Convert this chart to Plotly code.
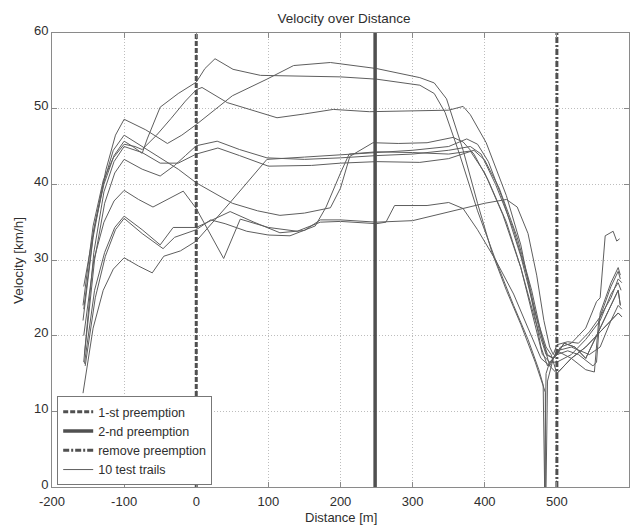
import plotly.graph_objects as go

# ---------------- data ----------------
x_ticks = [-200, -100, 0, 100, 200, 300, 400, 500, 600]
x_tick_labels = ["-200", "-100", "0", "100", "200", "300", "400", "500", "600"]
y_ticks = [0, 10, 20, 30, 40, 50, 60]
x_range = [-200, 600]
y_range = [0, 60]

event_names = ["1-st preemption", "2-nd preemption", "remove preemption"]
event_d = [0, 248, 500]

trail1_d = [-156, -140, -125, -112, -100, -70, -40, -20, 0, 50, 98, 135, 186, 250, 310, 330, 347, 370, 390, 410, 430, 450, 470, 480, 484, 484, 485, 487, 495, 505, 520, 540, 555, 560, 567, 578, 583, 587]
trail1_v = [26.5, 35, 42, 46.5, 48.6, 47.2, 45.4, 46.5, 47.9, 51.7, 53.9, 55.7, 56.1, 55.3, 54.1, 53.4, 51.3, 44.5, 37.5, 31, 26, 21.5, 16.5, 13.5, 12.5, 0, 0, 14, 17, 18.5, 19, 21, 24.5, 25, 33.2, 33.8, 32.5, 32.8]

trail2_d = [-156, -142, -128, -114, -100, -88, -75, -68, -50, -25, 0, 12, 26, 51, 89, 150, 200, 250, 310, 330, 345, 365, 390, 415, 440, 460, 475, 481, 482, 483, 485, 490, 500, 515, 530, 550, 555, 560, 575, 585, 588]
trail2_v = [23.5, 34, 40, 43.8, 45.7, 45.0, 44.1, 46.0, 50.2, 52.0, 53.5, 55.3, 56.6, 55.2, 54.4, 54.3, 54.2, 53.9, 53.1, 52.0, 49.5, 44, 36.5, 30, 24, 19.5, 15.5, 13.5, 0, 0, 15, 16.5, 17.5, 18, 17.5, 16, 16.5, 23, 27, 29, 28]

trail3_d = [-157, -143, -129, -115, -100, -85, -75, -55, -35, -15, 0, 8, 43, 70, 112, 150, 190, 240, 310, 350, 370, 380, 402, 430, 450, 465, 478, 487, 495, 500, 520, 540, 552, 558, 575, 585, 588]
trail3_v = [24, 34.5, 40.5, 43.5, 45.3, 45.0, 44.6, 46.5, 48.7, 51.0, 52.5, 52.8, 50.8, 50.0, 48.8, 49.3, 49.9, 49.6, 49.7, 49.8, 50.3, 49.2, 45.5, 38.5, 32, 25, 18.5, 16, 17, 18, 17, 15.5, 15.2, 22, 26.5, 28.5, 27.5]

trail4_d = [-157, -143, -129, -115, -100, -75, -50, -25, 0, 25, 50, 85, 116, 150, 186, 200, 213, 245, 280, 320, 356, 370, 385, 405, 430, 450, 468, 480, 490, 500, 520, 540, 560, 575, 585, 589]
trail4_v = [22, 33, 40, 44.5, 46.5, 45.0, 43.5, 42.0, 40.2, 38.8, 37.5, 36.5, 35.9, 36.2, 36.9, 39.5, 43.7, 45.5, 45.4, 45.5, 46.2, 45.6, 44, 40.5, 35, 29, 22, 17.5, 16.5, 16.5, 17.5, 19.5, 22, 25.5, 27, 26]

trail5_d = [-155, -141, -127, -113, -100, -75, -50, -30, -15, 0, 29, 60, 98, 150, 200, 250, 300, 350, 380, 395, 415, 440, 460, 475, 487, 495, 500, 510, 525, 540, 555, 570, 585, 588]
trail5_v = [17.5, 30, 37.5, 41.5, 43.3, 42.0, 41.1, 42.5, 43.8, 45.1, 45.7, 44.6, 43.5, 43.3, 43.5, 43.8, 44.0, 44.5, 45.0, 44.0, 40, 34, 27.5, 21, 17.5, 17, 17.5, 19, 18.5, 17, 20, 23, 26, 24]

trail6_d = [-156, -142, -128, -114, -100, -75, -50, -25, 0, 30, 60, 100, 160, 200, 250, 310, 350, 385, 400, 420, 445, 465, 480, 490, 500, 520, 540, 560, 575, 585, 590]
trail6_v = [16.5, 31, 39, 43, 45.0, 44.2, 42.8, 42.8, 44.0, 44.8, 43.8, 42.4, 42.5, 42.8, 43.0, 42.9, 43.4, 44.5, 43.2, 39.5, 33, 26, 19.5, 16, 15, 17, 18.5, 20.5, 22, 23, 22.5]

trail7_d = [-154, -140, -126, -112, -100, -75, -46, -30, 0, 20, 40, 70, 100, 130, 165, 180, 200, 212, 250, 300, 350, 380, 400, 425, 450, 470, 485, 495, 500, 510, 525, 540, 555, 570, 585, 588]
trail7_v = [16, 25, 30.5, 34, 35.5, 33.5, 31.5, 33, 34.0, 35.3, 34.8, 33.8, 33.3, 33.2, 34.5, 37, 41.5, 44.0, 44.3, 44.2, 44.0, 44.4, 41.5, 36, 29, 22, 17.5, 17, 17.5, 19, 18.5, 17, 20, 23, 26, 24]

trail8_d = [-155, -141, -127, -113, -100, -75, -50, -32, 0, 47, 80, 116, 150, 172, 200, 250, 300, 350, 400, 430, 445, 460, 472, 482, 490, 495, 500, 515, 530, 545, 560, 575, 585, 590]
trail8_v = [16.3, 26, 31, 34.3, 35.8, 34.0, 32.0, 34.3, 34.3, 36.4, 35.0, 33.6, 33.9, 35.3, 35.3, 35.0, 35.2, 36.3, 37.5, 38.0, 37.0, 33.5, 28, 22, 18.5, 17.5, 18.8, 19.2, 19, 20.5, 22.5, 25, 27.5, 27]

trail9_d = [-156, -142, -128, -114, -100, -80, -60, -40, -18, 0, 38, 61, 100, 140, 172, 200, 250, 263, 275, 320, 350, 370, 390, 415, 440, 460, 478, 490, 500, 520, 545, 560, 575, 585, 590]
trail9_v = [20, 30, 35, 37.8, 39.2, 38.0, 37.0, 38.0, 39.1, 36.8, 30.2, 35.4, 34.3, 33.8, 35.0, 35.1, 34.8, 35.0, 37.2, 37.2, 37.6, 36.8, 34, 30, 25.5, 21, 17, 16, 18, 18.5, 17.5, 18.5, 22, 24, 23.5]

trail10_d = [-157, -143, -129, -115, -100, -80, -61, -45, -22, 0, 47, 75, 98, 150, 200, 250, 300, 350, 375, 390, 405, 425, 450, 470, 485, 492, 500, 520, 540, 560, 575, 585, 590]
trail10_v = [12.4, 21, 26, 28.8, 30.3, 29.2, 28.3, 30.5, 31.2, 32.5, 37.6, 40.8, 43.3, 43.6, 43.9, 44.2, 44.5, 45.0, 46.0, 45.3, 43, 38, 30.5, 23, 18.5, 17.5, 15, 17, 18.5, 20.5, 22, 23, 22.5]

trails_d = [trail1_d, trail2_d, trail3_d, trail4_d, trail5_d, trail6_d, trail7_d, trail8_d, trail9_d, trail10_d]
trails_v = [trail1_v, trail2_v, trail3_v, trail4_v, trail5_v, trail6_v, trail7_v, trail8_v, trail9_v, trail10_v]

# ---------------- figure ----------------
FONT = "Liberation Sans, Arial, sans-serif"
TXT = "#2e2e2e"
fig = go.Figure()

for i, (d, v) in enumerate(zip(trails_d, trails_v)):
    fig.add_trace(go.Scatter(
        x=d, y=v, mode="lines",
        line=dict(color="#5e5e5e", width=1),
        name="10 test trails", legendgroup="trails",
        showlegend=(i == 0), legendrank=4, hoverinfo="skip"))

event_styles = [
    dict(color="#505050", width=3, dash="5px,2px"),
    dict(color="#505050", width=3.5, dash="solid"),
    dict(color="#505050", width=3, dash="6px,2px,2px,2px"),
]
for k, (name, d0, st) in enumerate(zip(event_names, event_d, event_styles)):
    fig.add_trace(go.Scatter(
        x=[d0, d0], y=y_range, mode="lines", line=st,
        name=name, legendrank=k + 1, hoverinfo="skip"))

axis_common = dict(
    showline=True, linecolor="#8a8a8a", linewidth=1, mirror="allticks",
    ticks="inside", ticklen=5, tickcolor="#8a8a8a",
    showgrid=True, gridcolor="#bdbdbd", griddash="1px,2px", gridwidth=1,
    zeroline=False, tickfont=dict(family=FONT, size=13, color=TXT),
)
fig.update_xaxes(range=x_range, tickvals=x_ticks, ticktext=x_tick_labels,
                 ticklabelstandoff=2, **axis_common)
fig.update_yaxes(range=y_range, tickvals=y_ticks, ticklabelshift=-3, **axis_common)

# the page body has an 8px margin, so the figure is sized/offset to compensate
fig.update_layout(
    width=631, height=519,
    margin=dict(l=44, r=10, t=25, b=40),
    paper_bgcolor="white", plot_bgcolor="white",
    font=dict(family=FONT, size=13, color=TXT),
    title=dict(text="Velocity over Distance", x=0.5325, xanchor="center",
               y=1 - 10 / 519, yanchor="middle", yref="container",
               font=dict(family=FONT, size=13.5, color=TXT)),
    showlegend=True,
    legend=dict(x=0.009, y=0.004, xanchor="left", yanchor="bottom",
                bgcolor="white", bordercolor="#777777", borderwidth=1,
                font=dict(family=FONT, size=12.5, color=TXT),
                tracegroupgap=0, itemwidth=30),
    annotations=[
        dict(text="Distance [m]", xref="paper", yref="paper", x=0.5, y=-0.068,
             xanchor="center", yanchor="middle", showarrow=False,
             font=dict(family=FONT, size=13, color=TXT)),
        dict(text="Velocity [km/h]", xref="paper", yref="paper", x=-0.059, y=0.5,
             xanchor="center", yanchor="middle", textangle=-90, showarrow=False,
             font=dict(family=FONT, size=13.5, color=TXT)),
    ],
)

fig.write_html("out.html")
